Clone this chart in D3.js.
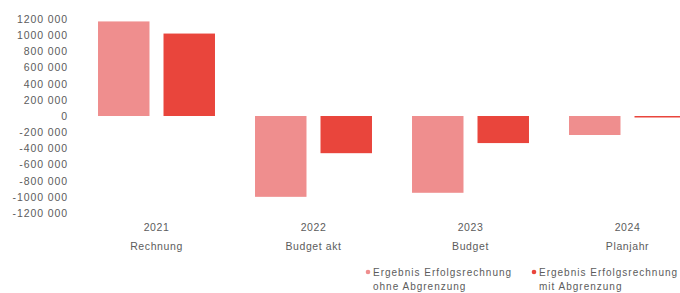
<!DOCTYPE html>
<html>
<head>
<meta charset="utf-8">
<script src="https://cdn.jsdelivr.net/npm/d3@7"></script>
<style>
  body { margin: 0; background: #fff; }
  #vis { width: 680px; height: 293px; overflow: hidden; }
  text { font-family: "Liberation Sans", Arial, sans-serif; fill: #5c5c5c; }
</style>
</head>
<body>
<div id="vis"></div>
<script>
var years = ['2021', '2022', '2023', '2024'];
var types = ['Rechnung', 'Budget akt', 'Budget', 'Planjahr'];
var ohne = [1170000, -1000000, -950000, -235000];
var mit = [1020000, -460000, -335000, -8000];
var series_names = [
    ['Ergebnis Erfolgsrechnung', 'ohne Abgrenzung'],
    ['Ergebnis Erfolgsrechnung', 'mit Abgrenzung']
];
var colours = ['#ef8e8e', '#e9453c'];
var y_ticks = [1200000, 1000000, 800000, 600000, 400000, 200000, 0,
    -200000, -400000, -600000, -800000, -1000000, -1200000];

var width = 680;
var height = 293;

var svg = d3.select('#vis')
    .append('svg')
    .attr('width', width)
    .attr('height', height);

var x_scale = d3.scaleBand()
    .domain(years)
    .range([78, 706])
    .paddingInner(0.255)
    .paddingOuter(0.1275);

var x_inner = d3.scaleBand()
    .domain([0, 1])
    .range([0, x_scale.bandwidth()])
    .paddingInner(0.214);

var y_scale = d3.scaleLinear()
    .domain([-1200000, 1200000])
    .range([213, 19]);

function fmt(v) {
    if (v === 0) return '0';
    var a = Math.abs(v);
    var rest = String(a % 1000);
    while (rest.length < 3) rest = '0' + rest;
    return (v < 0 ? '-' : '') + Math.floor(a / 1000) + ' ' + rest;
}

var y_axis = d3.axisLeft(y_scale)
    .tickValues(y_ticks)
    .tickSize(0)
    .tickPadding(0)
    .tickFormat(fmt);

var y_g = svg.append('g')
    .attr('class', 'y axis')
    .attr('transform', 'translate(68,0)')
    .call(y_axis);
y_g.select('.domain').remove();
y_g.selectAll('text')
    .style('font-size', '10.5px')
    .style('letter-spacing', '0.9px')
    .attr('fill', '#5c5c5c');

var rows = years.map(function(y, i) {
    return {year: y, values: [ohne[i], mit[i]]};
});

var groups = svg.selectAll('.group')
    .data(rows)
    .enter()
    .append('g')
    .attr('class', 'group')
    .attr('transform', function(d) {
        return 'translate(' + x_scale(d.year) + ',0)';
    });

groups.selectAll('rect')
    .data(function(d) { return d.values; })
    .enter()
    .append('rect')
    .attr('x', function(d, i) { return x_inner(i); })
    .attr('width', x_inner.bandwidth())
    .attr('y', function(d) { return y_scale(Math.max(0, d)); })
    .attr('height', function(d) {
        return Math.max(1.5, Math.abs(y_scale(d) - y_scale(0)));
    })
    .attr('fill', function(d, i) { return colours[i]; });

// category labels (year + type)
var x_axis = d3.axisBottom(x_scale).tickSize(0).tickPadding(0);
var x_g = svg.append('g')
    .attr('class', 'x axis')
    .attr('transform', 'translate(0,222)')
    .call(x_axis);
x_g.select('.domain').remove();
x_g.selectAll('text').remove();
x_g.selectAll('.tick').each(function(d, i) {
    var t = d3.select(this).append('text')
        .attr('text-anchor', 'middle')
        .attr('fill', '#5c5c5c')
        .style('font-size', '10.5px')
        .style('letter-spacing', '0.6px');
    t.append('tspan').attr('x', 0).attr('y', 9).text(years[i]);
    t.append('tspan').attr('x', 0).attr('y', 28).text(types[i]);
});

// legend
var legend_x = [366, 532];
var legend = svg.selectAll('.legend')
    .data(series_names)
    .enter()
    .append('g')
    .attr('class', 'legend')
    .attr('transform', function(d, i) {
        return 'translate(' + legend_x[i] + ',272)';
    });

legend.append('circle')
    .attr('cx', 2)
    .attr('cy', 0)
    .attr('r', 2.3)
    .attr('fill', function(d, i) { return colours[i]; });

legend.append('text')
    .attr('x', 7)
    .attr('y', 3.5)
    .style('font-size', '10px')
    .style('letter-spacing', '1px')
    .attr('fill', '#5c5c5c')
    .text(function(d) { return d[0]; });

legend.append('text')
    .attr('x', 7)
    .attr('y', 17.5)
    .style('font-size', '10px')
    .style('letter-spacing', '1px')
    .attr('fill', '#5c5c5c')
    .text(function(d) { return d[1]; });
</script>
</body>
</html>
